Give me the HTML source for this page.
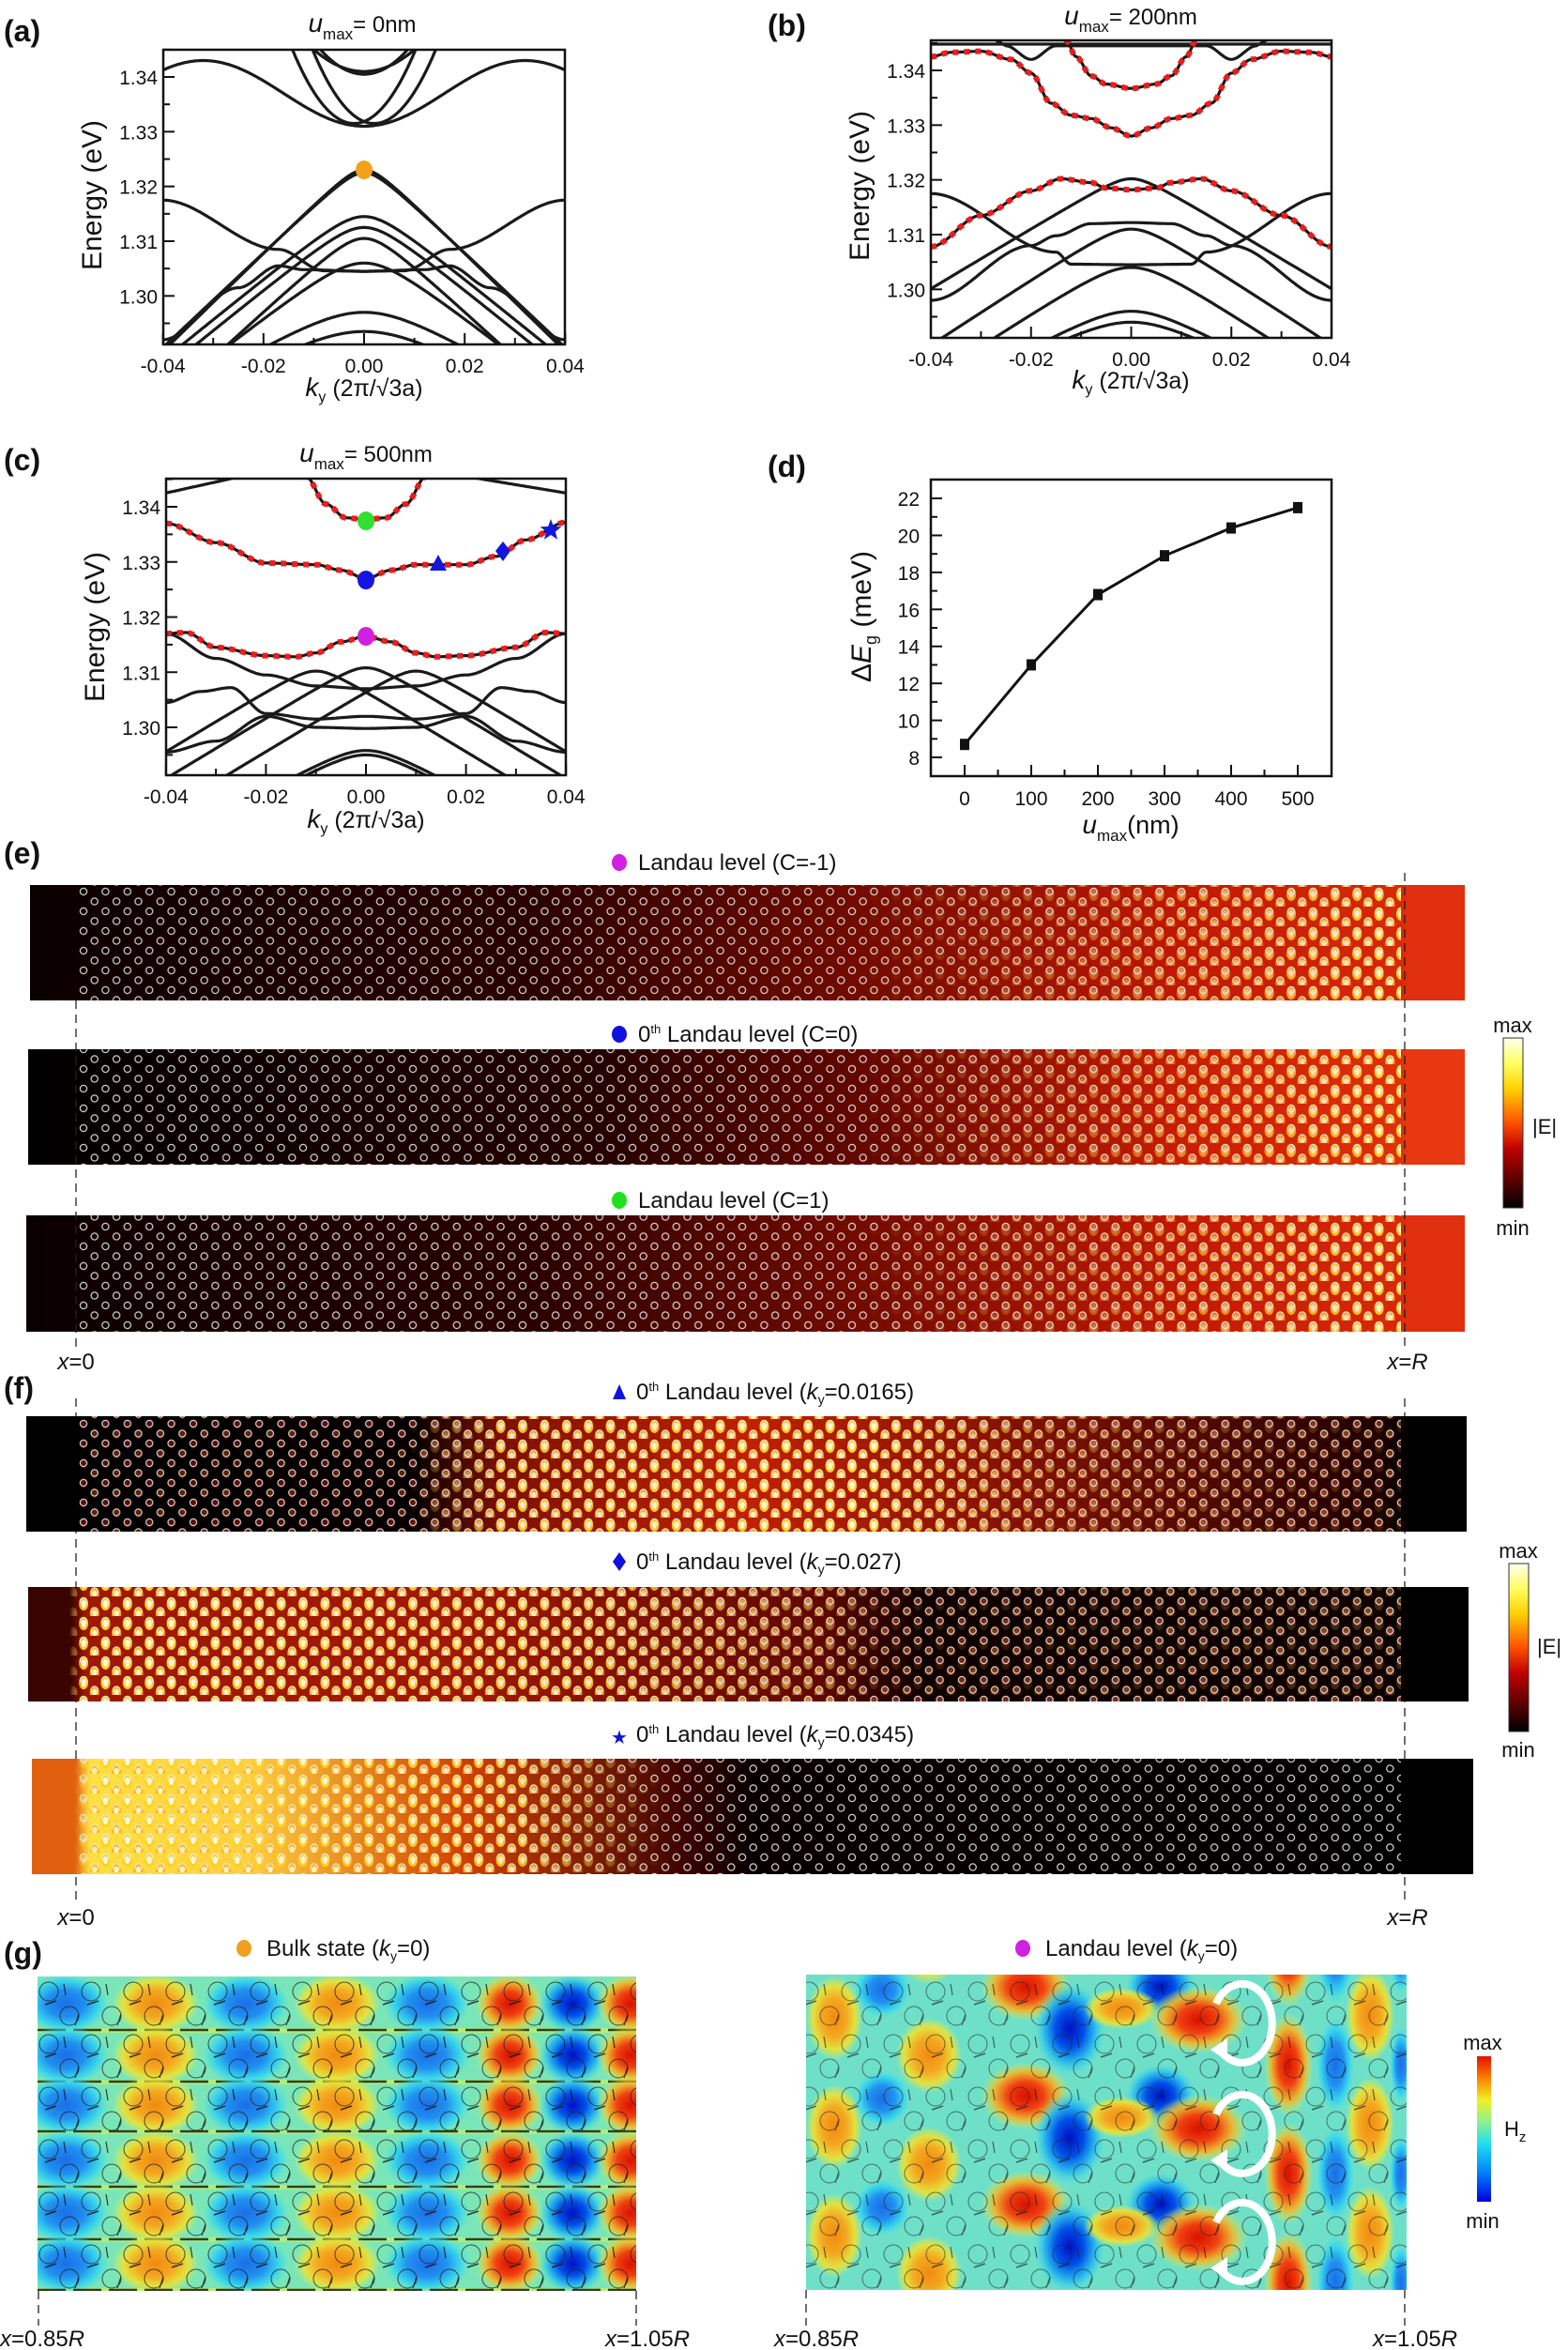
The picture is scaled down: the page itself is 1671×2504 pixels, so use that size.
<!DOCTYPE html>
<html><head><meta charset="utf-8"><style>
html,body{margin:0;padding:0;background:#fff}
svg{display:block}
text{font-family:"Liberation Sans Narrow","Liberation Sans",sans-serif;fill:#111}
.t{font-size:21px}
.lab{font-family:"Liberation Sans",sans-serif;font-weight:bold;font-size:32px}
.ax{font-family:"Liberation Sans",sans-serif;font-size:30px}
.tt{font-size:24px}
.cb{font-family:"Liberation Sans",sans-serif;font-size:22px}
</style></head><body>
<svg id="s" width="1671" height="2504" viewBox="0 0 1671 2504" xmlns="http://www.w3.org/2000/svg">
<defs>
<clipPath id="ca"><rect x="174" y="53" width="428" height="314"/></clipPath>
<clipPath id="cbp"><rect x="992" y="43" width="427" height="317"/></clipPath>
<clipPath id="cc"><rect x="177" y="510" width="426" height="316"/></clipPath>
<clipPath id="cgl"><rect x="40" y="2106" width="638" height="335"/></clipPath>
<clipPath id="cgr"><rect x="859" y="2104" width="640" height="336"/></clipPath>
<pattern id="ring" width="23.4" height="21" patternUnits="userSpaceOnUse" x="84" y="0">
<circle cx="5" cy="5" r="3.6" fill="none" stroke="#eee" stroke-width="1.3" opacity=".85"/>
<circle cx="16.7" cy="15.5" r="3.6" fill="none" stroke="#eee" stroke-width="1.3" opacity=".85"/>
</pattern>
<pattern id="blobY" width="23.4" height="21" patternUnits="userSpaceOnUse" x="84" y="0">
<ellipse cx="5" cy="8" rx="5" ry="7" fill="#ffd21e"/><ellipse cx="5" cy="8" rx="2.5" ry="4" fill="#fffbe0"/>
<ellipse cx="16.7" cy="18.5" rx="5" ry="7" fill="#ffb010"/><ellipse cx="16.7" cy="18.5" rx="2.5" ry="4" fill="#fff5c0"/>
</pattern>
<pattern id="blobR" width="23.4" height="21" patternUnits="userSpaceOnUse" x="84" y="0">
<ellipse cx="5" cy="6" rx="3" ry="4.5" fill="#e02010"/>
<ellipse cx="16.7" cy="16.5" rx="3" ry="4.5" fill="#f05010"/>
</pattern>
<pattern id="gring" width="45" height="56" patternUnits="userSpaceOnUse" x="40" y="2106">
<circle cx="12" cy="16" r="10" fill="none" stroke="#222" stroke-width="1"/>
<circle cx="34" cy="42" r="10" fill="none" stroke="#222" stroke-width="1"/>
<line x1="8" y1="30" x2="20" y2="26" stroke="#111" stroke-width="1.5"/>
<line x1="28" y1="8" x2="30" y2="20" stroke="#111" stroke-width="1.2"/>
<line x1="40" y1="52" x2="44" y2="40" stroke="#111" stroke-width="1.2"/>
</pattern>
<linearGradient id="gE1" x1="0" x2="1"><stop offset="0" stop-color="#0a0000"/><stop offset=".05" stop-color="#100000"/><stop offset=".35" stop-color="#2a0200"/><stop offset=".6" stop-color="#7a0c00"/><stop offset=".8" stop-color="#c01800"/><stop offset=".955" stop-color="#d82808"/><stop offset=".96" stop-color="#e03010"/><stop offset="1" stop-color="#e03010"/></linearGradient>
<linearGradient id="gE2" x1="0" x2="1"><stop offset="0" stop-color="#000"/><stop offset=".05" stop-color="#050000"/><stop offset=".4" stop-color="#250200"/><stop offset=".6" stop-color="#6a0800"/><stop offset=".8" stop-color="#c81c00"/><stop offset=".955" stop-color="#e03008"/><stop offset=".96" stop-color="#e83810"/><stop offset="1" stop-color="#e83810"/></linearGradient>
<linearGradient id="mE" x1="0" x2="1"><stop offset="0" stop-color="#fff" stop-opacity="0"/><stop offset=".6" stop-color="#fff" stop-opacity="0"/><stop offset=".8" stop-color="#fff" stop-opacity=".45"/><stop offset="1" stop-color="#fff" stop-opacity="1"/></linearGradient>
<linearGradient id="gF1" x1="0" x2="1"><stop offset="0" stop-color="#000"/><stop offset=".27" stop-color="#080000"/><stop offset=".33" stop-color="#801000"/><stop offset=".5" stop-color="#c02000"/><stop offset=".7" stop-color="#801000"/><stop offset=".94" stop-color="#200000"/><stop offset=".96" stop-color="#000"/><stop offset="1" stop-color="#000"/></linearGradient>
<linearGradient id="mF1" x1="0" x2="1"><stop offset=".25" stop-color="#fff" stop-opacity="0"/><stop offset=".32" stop-color="#fff" stop-opacity=".9"/><stop offset=".6" stop-color="#fff" stop-opacity="1"/><stop offset=".75" stop-color="#fff" stop-opacity=".35"/><stop offset="1" stop-color="#fff" stop-opacity=".1"/></linearGradient>
<linearGradient id="gF2" x1="0" x2="1"><stop offset="0" stop-color="#3a0400"/><stop offset=".03" stop-color="#3a0400"/><stop offset=".04" stop-color="#a01800"/><stop offset=".3" stop-color="#a01800"/><stop offset=".55" stop-color="#600800"/><stop offset=".62" stop-color="#100000"/><stop offset=".94" stop-color="#100000"/><stop offset=".96" stop-color="#000"/><stop offset="1" stop-color="#000"/></linearGradient>
<linearGradient id="mF2" x1="0" x2="1"><stop offset=".03" stop-color="#fff" stop-opacity="0"/><stop offset=".04" stop-color="#fff" stop-opacity="1"/><stop offset=".4" stop-color="#fff" stop-opacity=".9"/><stop offset=".58" stop-color="#fff" stop-opacity=".5"/><stop offset=".62" stop-color="#fff" stop-opacity=".1"/><stop offset="1" stop-color="#fff" stop-opacity=".2"/></linearGradient>
<linearGradient id="gF3" x1="0" x2="1"><stop offset="0" stop-color="#e06010"/><stop offset=".03" stop-color="#e06010"/><stop offset=".04" stop-color="#ffe040"/><stop offset=".15" stop-color="#ffd040"/><stop offset=".3" stop-color="#d04000"/><stop offset=".45" stop-color="#400400"/><stop offset=".5" stop-color="#080000"/><stop offset="1" stop-color="#000"/></linearGradient>
<linearGradient id="mF3" x1="0" x2="1"><stop offset=".03" stop-color="#fff" stop-opacity="0"/><stop offset=".05" stop-color="#fff" stop-opacity="1"/><stop offset=".35" stop-color="#fff" stop-opacity=".9"/><stop offset=".46" stop-color="#fff" stop-opacity="0"/><stop offset="1" stop-color="#fff" stop-opacity="0"/></linearGradient>
<linearGradient id="mR" x1="0" x2="1"><stop offset="0" stop-color="#fff" stop-opacity=".4"/><stop offset="1" stop-color="#fff" stop-opacity=".4"/></linearGradient>
<mask id="mkE" maskContentUnits="objectBoundingBox"><rect width="1" height="1" fill="url(#mE)"/></mask>
<mask id="mkF1" maskContentUnits="objectBoundingBox"><rect width="1" height="1" fill="url(#mF1)"/></mask>
<mask id="mkF2" maskContentUnits="objectBoundingBox"><rect width="1" height="1" fill="url(#mF2)"/></mask>
<mask id="mkF3" maskContentUnits="objectBoundingBox"><rect width="1" height="1" fill="url(#mF3)"/></mask>
<mask id="mkR" maskContentUnits="objectBoundingBox"><rect width="1" height="1" fill="url(#mR)"/></mask>
<linearGradient id="cbE" x1="0" y1="1" x2="0" y2="0"><stop offset="0" stop-color="#000"/><stop offset=".35" stop-color="#c00000"/><stop offset=".5" stop-color="#ff5000"/><stop offset=".7" stop-color="#ffd000"/><stop offset=".85" stop-color="#ffff60"/><stop offset="1" stop-color="#fffff0"/></linearGradient>
<linearGradient id="cbG" x1="0" y1="1" x2="0" y2="0"><stop offset="0" stop-color="#0000e0"/><stop offset=".2" stop-color="#0080ff"/><stop offset=".4" stop-color="#20e0f0"/><stop offset=".55" stop-color="#90f090"/><stop offset=".7" stop-color="#f0f020"/><stop offset=".85" stop-color="#ff8000"/><stop offset="1" stop-color="#e01000"/></linearGradient>
<radialGradient id="rO"><stop offset="0" stop-color="#f08a10"/><stop offset=".45" stop-color="#f4a820"/><stop offset=".75" stop-color="#f0e030" stop-opacity=".9"/><stop offset="1" stop-color="#e8f040" stop-opacity="0"/></radialGradient>
<radialGradient id="rRd"><stop offset="0" stop-color="#d81000"/><stop offset=".4" stop-color="#f04010"/><stop offset=".7" stop-color="#f8b020" stop-opacity=".9"/><stop offset="1" stop-color="#f0f040" stop-opacity="0"/></radialGradient>
<radialGradient id="rB"><stop offset="0" stop-color="#1a6ee8"/><stop offset=".45" stop-color="#2090f0"/><stop offset=".75" stop-color="#30d0f0" stop-opacity=".9"/><stop offset="1" stop-color="#40e0f0" stop-opacity="0"/></radialGradient>
<radialGradient id="rBd"><stop offset="0" stop-color="#0010c0"/><stop offset=".4" stop-color="#0050e8"/><stop offset=".7" stop-color="#20b0f0" stop-opacity=".9"/><stop offset="1" stop-color="#40e0f0" stop-opacity="0"/></radialGradient>
</defs>

<text class="lab" x="4" y="44">(a)</text>
<text class="lab" x="818" y="38">(b)</text>
<text class="lab" x="4" y="501">(c)</text>
<text class="lab" x="818" y="508">(d)</text>
<text class="lab" x="4" y="920">(e)</text>
<text class="lab" x="4" y="1490">(f)</text>
<text class="lab" x="4" y="2092">(g)</text>

<text class="tt" x="386" y="34" text-anchor="middle" font-size="27"><tspan font-style="italic" font-size="28">u</tspan><tspan font-size="17" dy="8">max</tspan><tspan dy="-8">= 0nm</tspan></text>
<text class="tt" x="1205" y="26" text-anchor="middle" font-size="27"><tspan font-style="italic" font-size="28">u</tspan><tspan font-size="17" dy="8">max</tspan><tspan dy="-8">= 200nm</tspan></text>
<text class="tt" x="390" y="492" text-anchor="middle" font-size="27"><tspan font-style="italic" font-size="28">u</tspan><tspan font-size="17" dy="8">max</tspan><tspan dy="-8">= 500nm</tspan></text>

<g id="plots"></g>

<rect x="174" y="53" width="428" height="314" fill="none" stroke="#111" stroke-width="2.5"/>
<rect x="992" y="43" width="427" height="317" fill="none" stroke="#111" stroke-width="2.5"/>
<rect x="177" y="510" width="426" height="316" fill="none" stroke="#111" stroke-width="2.5"/>
<rect x="992" y="511" width="427" height="316" fill="none" stroke="#111" stroke-width="2.5"/>

<text class="ax" transform="translate(108,208) rotate(-90)" text-anchor="middle">Energy (eV)</text>
<text class="ax" transform="translate(926,198) rotate(-90)" text-anchor="middle">Energy (eV)</text>
<text class="ax" transform="translate(111,668) rotate(-90)" text-anchor="middle">Energy (eV)</text>
<text class="ax" transform="translate(928,657) rotate(-90)" text-anchor="middle"><tspan>Δ</tspan><tspan font-style="italic">E</tspan><tspan font-size="18" dy="6">g</tspan><tspan dy="-6"> (meV)</tspan></text>
<text class="tt" x="388" y="422" text-anchor="middle"><tspan font-style="italic" font-size="28">k</tspan><tspan font-size="16" dy="6">y</tspan><tspan dy="-6" font-size="25"> (2π/√3a)</tspan></text>
<text class="tt" x="1205" y="414" text-anchor="middle"><tspan font-style="italic" font-size="28">k</tspan><tspan font-size="16" dy="6">y</tspan><tspan dy="-6" font-size="25"> (2π/√3a)</tspan></text>
<text class="tt" x="390" y="882" text-anchor="middle"><tspan font-style="italic" font-size="28">k</tspan><tspan font-size="16" dy="6">y</tspan><tspan dy="-6" font-size="25"> (2π/√3a)</tspan></text>
<text class="tt" x="1205" y="888" text-anchor="middle"><tspan font-style="italic" font-size="28">u</tspan><tspan font-size="17" dy="8">max</tspan><tspan dy="-8" font-size="27">(nm)</tspan></text>

<g>
<text class="tt" x="680" y="927">Landau level (C=-1)</text>
<ellipse cx="660" cy="919" rx="8" ry="9" fill="#d020e0"/>
<rect x="32" y="943" width="1529" height="123" fill="url(#gE1)"/>
<rect x="32" y="943" width="1461" height="123" fill="url(#blobY)" mask="url(#mkE)"/>
<rect x="84" y="943" width="1409" height="123" fill="url(#ring)"/>

<text class="tt" x="680" y="1110"><tspan>0</tspan><tspan font-size="13" dy="-9">th</tspan><tspan dy="9"> Landau level  (C=0)</tspan></text>
<ellipse cx="660" cy="1102" rx="8" ry="9" fill="#1010e0"/>
<rect x="30" y="1118" width="1531" height="123" fill="url(#gE2)"/>
<rect x="30" y="1118" width="1463" height="123" fill="url(#blobY)" mask="url(#mkE)"/>
<rect x="84" y="1118" width="1409" height="123" fill="url(#ring)"/>

<text class="tt" x="680" y="1287">Landau level  (C=1)</text>
<ellipse cx="660" cy="1279" rx="8" ry="9" fill="#20e020"/>
<rect x="28" y="1295" width="1533" height="124" fill="url(#gE1)"/>
<rect x="28" y="1295" width="1465" height="124" fill="url(#blobY)" mask="url(#mkE)"/>
<rect x="84" y="1295" width="1409" height="124" fill="url(#ring)"/>

<g stroke="#222" stroke-width="1.3" stroke-dasharray="9 6" fill="none">
<line x1="81" y1="1066" x2="81" y2="1440"/><line x1="1497" y1="930" x2="1497" y2="1440"/>
<line x1="81" y1="1490" x2="81" y2="2030"/><line x1="1497" y1="1490" x2="1497" y2="2030"/>
<line x1="41" y1="2441" x2="41" y2="2478"/><line x1="678" y1="2441" x2="678" y2="2478"/>
<line x1="859" y1="2440" x2="859" y2="2478"/><line x1="1497" y1="2440" x2="1497" y2="2478"/>
</g>
<text class="tt" x="81" y="1459" text-anchor="middle"><tspan font-style="italic">x</tspan>=0</text>
<text class="tt" x="1500" y="1459" text-anchor="middle"><tspan font-style="italic">x</tspan>=<tspan font-style="italic">R</tspan></text>

<rect x="1602" y="1106" width="21" height="181" fill="url(#cbE)" stroke="#333" stroke-width="1"/>
<text class="cb" x="1612" y="1100" text-anchor="middle">max</text>
<text class="cb" x="1612" y="1316" text-anchor="middle">min</text>
<text class="cb" x="1633" y="1208">|E|</text>
</g>

<g>
<polygon points="660,1475 667,1491 653,1491" fill="#1010e0"/>
<text class="tt" x="678" y="1491"><tspan>0</tspan><tspan font-size="13" dy="-9">th</tspan><tspan dy="9"> Landau level (</tspan><tspan font-style="italic">k</tspan><tspan font-size="14" dy="5">y</tspan><tspan dy="-5">=0.0165)</tspan></text>
<rect x="28" y="1509" width="1535" height="123" fill="url(#gF1)"/>
<rect x="84" y="1509" width="1409" height="123" fill="url(#blobR)" mask="url(#mkR)"/>
<rect x="84" y="1509" width="1409" height="123" fill="url(#blobY)" mask="url(#mkF1)"/>
<rect x="84" y="1509" width="1409" height="123" fill="url(#ring)"/>

<polygon points="660,1654 667,1664 660,1674 653,1664" fill="#1010e0"/>
<text class="tt" x="678" y="1672"><tspan>0</tspan><tspan font-size="13" dy="-9">th</tspan><tspan dy="9"> Landau level (</tspan><tspan font-style="italic">k</tspan><tspan font-size="14" dy="5">y</tspan><tspan dy="-5">=0.027)</tspan></text>
<rect x="30" y="1691" width="1535" height="122" fill="url(#gF2)"/>
<rect x="84" y="1691" width="1409" height="122" fill="url(#blobR)" mask="url(#mkR)"/>
<rect x="30" y="1691" width="1463" height="122" fill="url(#blobY)" mask="url(#mkF2)"/>
<rect x="84" y="1691" width="1409" height="122" fill="url(#ring)"/>

<text x="660" y="1858" text-anchor="middle" font-size="20" style="fill:#1010e0">★</text>
<text class="tt" x="678" y="1856"><tspan>0</tspan><tspan font-size="13" dy="-9">th</tspan><tspan dy="9"> Landau level (</tspan><tspan font-style="italic">k</tspan><tspan font-size="14" dy="5">y</tspan><tspan dy="-5">=0.0345)</tspan></text>
<rect x="34" y="1874" width="1536" height="123" fill="url(#gF3)"/>
<rect x="34" y="1874" width="1459" height="123" fill="url(#blobY)" mask="url(#mkF3)"/>
<rect x="84" y="1874" width="1409" height="123" fill="url(#ring)"/>
<rect x="1497" y="1874" width="73" height="123" fill="#000"/>

<text class="tt" x="81" y="2051" text-anchor="middle"><tspan font-style="italic">x</tspan>=0</text>
<text class="tt" x="1500" y="2051" text-anchor="middle"><tspan font-style="italic">x</tspan>=<tspan font-style="italic">R</tspan></text>

<rect x="1608" y="1666" width="21" height="179" fill="url(#cbE)" stroke="#333" stroke-width="1"/>
<text class="cb" x="1618" y="1660" text-anchor="middle">max</text>
<text class="cb" x="1618" y="1872" text-anchor="middle">min</text>
<text class="cb" x="1638" y="1762">|E|</text>
</g>

<g>
<ellipse cx="260" cy="2076" rx="8" ry="9" fill="#f0a020"/>
<text class="tt" x="284" y="2084">Bulk state (<tspan font-style="italic">k</tspan><tspan font-size="14" dy="5">y</tspan><tspan dy="-5">=0)</tspan></text>
<ellipse cx="1090" cy="2076" rx="8" ry="9" fill="#d020e0"/>
<text class="tt" x="1114" y="2084">Landau level (<tspan font-style="italic">k</tspan><tspan font-size="14" dy="5">y</tspan><tspan dy="-5">=0)</tspan></text>
<g clip-path="url(#cgl)"><rect x="40" y="2106" width="638" height="335" fill="#7ae6b8"/><g id="gl"></g><rect x="40" y="2106" width="638" height="335" fill="url(#gring)" opacity=".8"/></g>
<g clip-path="url(#cgr)"><rect x="859" y="2104" width="640" height="336" fill="#6ee0c8"/><g id="gr"></g><rect x="859" y="2104" width="640" height="336" fill="url(#gring)" opacity=".6"/>
<g fill="none" stroke="#fff" stroke-width="8">
<path d="M1296,2135 A32,42 0 1 1 1300,2184"/>
<path d="M1296,2253 A32,42 0 1 1 1300,2302"/>
<path d="M1296,2368 A32,42 0 1 1 1300,2417"/>
</g>
<g fill="#fff"><polygon points="1290,2184 1308,2172 1308,2196"/><polygon points="1290,2302 1308,2290 1308,2314"/><polygon points="1290,2417 1308,2405 1308,2429"/></g>
</g>
<text class="tt" x="45" y="2500" text-anchor="middle"><tspan font-style="italic">x</tspan>=0.85<tspan font-style="italic">R</tspan></text>
<text class="tt" x="690" y="2500" text-anchor="middle"><tspan font-style="italic">x</tspan>=1.05<tspan font-style="italic">R</tspan></text>
<text class="tt" x="870" y="2500" text-anchor="middle"><tspan font-style="italic">x</tspan>=0.85<tspan font-style="italic">R</tspan></text>
<text class="tt" x="1508" y="2500" text-anchor="middle"><tspan font-style="italic">x</tspan>=1.05<tspan font-style="italic">R</tspan></text>
<rect x="1574" y="2191" width="15" height="155" fill="url(#cbG)"/>
<text class="cb" x="1580" y="2184" text-anchor="middle">max</text>
<text class="cb" x="1580" y="2374" text-anchor="middle">min</text>
<text class="cb" x="1603" y="2276">H<tspan font-size="15" dy="6">z</tspan></text>
</g>
</svg>
<script>
(function(){
var NS='http://www.w3.org/2000/svg';
var P=document.getElementById('plots');
function el(t,a,par){var e=document.createElementNS(NS,t);for(var k in a)e.setAttribute(k,a[k]);(par||P).appendChild(e);return e;}
function hyp(top,c,s,k0){k0=k0||0;return function(k){var x=k-k0;return top+c-Math.sqrt(c*c+(s*x)*(s*x));};}
function sym(pts){return function(k){var a=Math.abs(k);for(var i=1;i<pts.length;i++){if(a<=pts[i][0]){var p=pts[i-1],q=pts[i],t=(a-p[0])/(q[0]-p[0]);t=t*t*(3-2*t);return p[1]+(q[1]-p[1])*t;}}var n=pts.length,p=pts[n-2],q=pts[n-1];return q[1]+(q[1]-p[1])/(q[0]-p[0])*(a-q[0]);};}
function asym(pts){return function(k){for(var i=1;i<pts.length;i++){if(k<=pts[i][0]){var p=pts[i-1],q=pts[i],t=(k-p[0])/(q[0]-p[0]);t=t*t*(3-2*t);return p[1]+(q[1]-p[1])*t;}}return pts[pts.length-1][1];};}
function band(X,Y,f,clip,opt){opt=opt||{};var d='';for(var i=0;i<=320;i++){var k=-0.04+i*0.00025;var E=f(k);if(!isFinite(E))continue;d+=(d?'L':'M')+X(k).toFixed(1)+','+Y(E).toFixed(1);}
if(!d)return;var g=el('g',{'clip-path':'url(#'+clip+')'});
el('path',{d:d,fill:'none',stroke:'#1a1a1a','stroke-width':opt.w||3.2},g);
if(opt.red)el('path',{d:d,fill:'none',stroke:'#ee1c1c','stroke-width':6,'stroke-dasharray':'6 6'},g);}
var Xa=function(k){return 388+k*5360;},Ya=function(E){return 82+(1.34-E)*5833;};
var A=[k=>1.331+0.012*Math.pow(Math.sin(Math.PI*Math.abs(k)/0.064),2),
k=>1.3315+90*(k-0.002)*(k-0.002),k=>1.3315+90*(k+0.002)*(k+0.002),k=>1.341+40*k*k,k=>1.3405+60*k*k,
hyp(1.323,0.003,0.9),hyp(1.3225,0.003,0.87),
sym([[0,1.3045],[0.008,1.3046],[0.017,1.3085],[0.04,1.3175]]),
sym([[0,1.3045],[0.012,1.3048],[0.017,1.3055],[0.025,1.3015],[0.04,1.292]]),
hyp(1.3145,0.004,0.75),hyp(1.3125,0.004,0.75),hyp(1.3105,0.004,0.85),hyp(1.306,0.005,0.72),hyp(1.297,0.006,0.55),hyp(1.2935,0.006,0.5)];
A.forEach(f=>band(Xa,Ya,f,'ca'));
var Xb=function(k){return 1205.5+k*5337;},Yb=function(E){return 75+(1.34-E)*5833;};
[hyp(1.3202,0.002,0.55),sym([[0,1.3045],[0.012,1.3046],[0.015,1.3068],[0.04,1.3175]]),
sym([[0,1.3122],[0.008,1.312],[0.015,1.3098],[0.02,1.308],[0.04,1.298]]),hyp(1.311,0.003,0.6),hyp(1.304,0.004,0.6),hyp(1.296,0.004,0.5),hyp(1.294,0.004,0.45),
k=>1.3448,sym([[0,1.3445],[0.015,1.3445],[0.02,1.342],[0.025,1.3445]])].forEach(f=>band(Xb,Yb,f,'cbp'));
[sym([[0,1.328],[0.004,1.3295],[0.008,1.3312],[0.012,1.3318],[0.016,1.334],[0.02,1.3395],[0.024,1.342],[0.03,1.3435],[0.036,1.3433],[0.04,1.3425]]),
sym([[0,1.3367],[0.005,1.3375],[0.008,1.339],[0.011,1.3425],[0.013,1.3455]]),
sym([[0,1.3182],[0.005,1.3185],[0.008,1.3195],[0.014,1.3202],[0.02,1.318],[0.03,1.3135],[0.04,1.3078]])].forEach(f=>band(Xb,Yb,f,'cbp',{red:1}));
var Xc=function(k){return 390+k*5330;},Yc=function(E){return 540+(1.34-E)*5875;};
[sym([[0,1.307],[0.01,1.3075],[0.02,1.3095],[0.03,1.3125],[0.04,1.317]]),
hyp(1.3108,0.002,0.55),hyp(1.3102,0.002,0.55,-0.01),hyp(1.3102,0.002,0.55,0.01),
sym([[0,1.302],[0.01,1.3015],[0.02,1.3025],[0.027,1.3072],[0.033,1.3065],[0.04,1.3045]]),
sym([[0,1.2998],[0.01,1.3],[0.02,1.302],[0.03,1.2975],[0.04,1.2955]]),
hyp(1.2958,0.003,0.5),hyp(1.295,0.003,0.5),
k=>k<-0.025?1.3425+0.2*(k+0.04):NaN,k=>k>0.022?1.3425+0.15*(0.04-k):NaN].forEach(f=>band(Xc,Yc,f,'cc'));
[sym([[0,1.3377],[0.004,1.338],[0.008,1.3405],[0.012,1.3455]]),
asym([[-0.04,1.337],[-0.03,1.3335],[-0.02,1.3298],[-0.01,1.3295],[-0.005,1.3285],[0,1.327],[0.005,1.3285],[0.01,1.3295],[0.02,1.3295],[0.026,1.331],[0.032,1.334],[0.04,1.3372]]),
sym([[0,1.3165],[0.005,1.3155],[0.01,1.3135],[0.014,1.3128],[0.02,1.313],[0.03,1.3145],[0.036,1.3172],[0.04,1.317]])].forEach(f=>band(Xc,Yc,f,'cc',{red:1}));
function axTicks(X,Y,xb,yl){
 for(var i=-4;i<=4;i++){var x=X(i*0.01);el('line',{x1:x,y1:xb,x2:x,y2:xb-(i%2?7:12),stroke:'#111','stroke-width':2});
  if(i%2==0){var t=el('text',{x:x,y:xb+30,'text-anchor':'middle',class:'t'});t.textContent=(i*0.01).toFixed(2);}}
 for(var e=1.295;e<1.345;e+=0.005){var y=Y(e);if(y<Y(1.345)||y>xb)continue;var mj=Math.abs(Math.round(e*100)-e*100)<1e-6;
  el('line',{x1:yl,y1:y,x2:yl+(mj?12:7),y2:y,stroke:'#111','stroke-width':2});
  if(mj){var t=el('text',{x:yl-6,y:y+8,'text-anchor':'end',class:'t'});t.textContent=e.toFixed(2);}}
}
axTicks(Xa,Ya,367,174);axTicks(Xb,Yb,360,992);axTicks(Xc,Yc,826,177);
el('ellipse',{cx:388,cy:181,rx:9,ry:10,fill:'#f5a01a'});
el('ellipse',{cx:390,cy:555,rx:9,ry:10,fill:'#30e030'});
el('ellipse',{cx:390,cy:618,rx:9,ry:10,fill:'#1515e0'});
el('ellipse',{cx:390,cy:678,rx:9,ry:10,fill:'#d020e0'});
el('polygon',{points:'467,591 476,608 458,608',fill:'#1515e0'});
el('polygon',{points:'536,577 544,587 536,598 528,587',fill:'#1515e0'});
var st='';for(var i=0;i<10;i++){var r=i%2?5:12,a=-Math.PI/2+i*Math.PI/5;st+=(587+r*Math.cos(a)).toFixed(1)+','+(565+r*Math.sin(a)).toFixed(1)+' ';}
el('polygon',{points:st,fill:'#1515e0'});
var Xd=function(u){return 1028+u*0.71;},Yd=function(v){return 807-(v-8)*19.71;};
var dd=[[0,8.7],[100,13.0],[200,16.8],[300,18.9],[400,20.4],[500,21.5]];
el('polyline',{points:dd.map(p=>Xd(p[0])+','+Yd(p[1])).join(' '),fill:'none',stroke:'#111','stroke-width':3});
dd.forEach(p=>el('rect',{x:Xd(p[0])-5,y:Yd(p[1])-6,width:10,height:12,fill:'#111'}));
for(var u=0;u<=500;u+=50){var x=Xd(u);el('line',{x1:x,y1:827,x2:x,y2:827-(u%100?7:12),stroke:'#111','stroke-width':2});if(u%100==0){var t=el('text',{x:x,y:858,'text-anchor':'middle',class:'t'});t.textContent=u;}}
for(var v=8;v<=22;v+=1){var y=Yd(v);el('line',{x1:992,y1:y,x2:992+(v%2?7:12),y2:y,stroke:'#111','stroke-width':2});if(v%2==0){var t=el('text',{x:980,y:y+8,'text-anchor':'end',class:'t'});t.textContent=v;}}
var GL=document.getElementById('gl');
var cols=[70,166,262,359,455,543,610,672],rows=[2135,2190,2243,2302,2358,2412];
for(var r=0;r<6;r++){el('rect',{x:40,y:rows[r]+26,width:638,height:5,fill:'#c8f060',opacity:.7},GL);
 for(var c=0;c<8;c++){var o=(r+c)%2==(r%2?0:1);var strong=c>=5;
 el('ellipse',{cx:cols[c],cy:rows[r],rx:strong?36:46,ry:32,fill:'url(#'+(o?(strong?'rRd':'rO'):(strong?'rBd':'rB'))+')'},GL);}
 el('line',{x1:40,y1:rows[r]+28,x2:678,y2:rows[r]+28,stroke:'#111','stroke-width':2.5,'stroke-dasharray':'30 8',opacity:.8},GL);}
var GR=document.getElementById('gr');
function b(x,y,rx,ry,g){el('ellipse',{cx:x,cy:y,rx:rx,ry:ry,fill:'url(#'+g+')'},GR);}
for(var p=-1;p<3;p++){var y0=2100+p*116;
 b(889,y0+50,30,45,'rO');b(990,y0+90,35,40,'rO');b(940,y0+20,30,30,'rB');
 b(1093,y0+17,48,36,'rRd');b(1140,y0+62,38,50,'rBd');b(1237,y0+17,38,34,'rBd');b(1277,y0+52,52,36,'rRd');
 b(1195,y0+40,40,22,'rO');b(1373,y0+100,26,55,'rRd');b(1423,y0+100,20,50,'rB');b(1460,y0+47,26,50,'rO');b(1493,y0+100,12,40,'rB');}
})();
</script>
</body></html>
